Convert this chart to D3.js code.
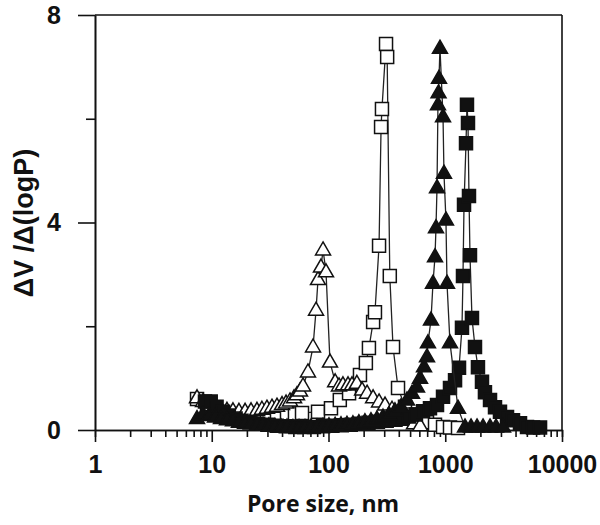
<!DOCTYPE html>
<html>
<head>
<meta charset="utf-8">
<script src="https://cdn.jsdelivr.net/npm/d3@7"></script>
<style>
  html, body { margin: 0; padding: 0; background: #fff; }
  svg { display: block; }
  .tick text { font-family: "Liberation Sans", Arial, sans-serif; font-weight: bold; font-size: 25px; fill: #111; }
</style>
</head>
<body>
<svg id="chart" width="600" height="525"></svg>
<script>
// ---- data (pore size in nm, dV/dlogP) ----
const openTriX = [7.48, 8.42, 9.47, 10.7, 12.0, 13.5, 15.2, 17.1, 19.3, 21.7, 24.4, 26.9, 29.7, 32.8, 36.2, 40.0, 43.3, 46.8, 50.7, 53.7, 57.0, 60.5, 66.7, 73.7, 78.2, 81.3, 86.2, 89.8, 95.2, 103, 114, 123, 133, 147, 159, 175, 194, 214, 241, 271, 305, 350, 410, 470, 540, 610];
const openTriY = [0.62, 0.55, 0.47, 0.42, 0.40, 0.38, 0.37, 0.36, 0.36, 0.37, 0.38, 0.40, 0.42, 0.44, 0.46, 0.49, 0.52, 0.56, 0.62, 0.68, 0.75, 0.85, 1.12, 1.60, 2.31, 2.90, 3.14, 3.47, 3.05, 1.31, 0.93, 0.85, 0.87, 0.87, 0.87, 0.90, 0.77, 0.71, 0.62, 0.54, 0.48, 0.40, 0.29, 0.19, 0.12, 0.08];

const openSqX = [7.48, 9.11, 11.1, 13.5, 16.4, 20.0, 24.4, 29.7, 36.2, 44.1, 51.6, 59.3, 81.3, 105, 125, 150, 186, 209, 222, 241, 250, 271, 282, 287, 311, 318, 335, 357, 394, 452, 519, 608, 698, 817, 957, 1098, 1286];
const openSqY = [0.60, 0.45, 0.35, 0.30, 0.27, 0.26, 0.26, 0.27, 0.28, 0.30, 0.32, 0.33, 0.35, 0.42, 0.58, 0.71, 1.06, 1.29, 1.58, 2.08, 2.27, 3.55, 5.84, 6.19, 7.44, 7.19, 2.97, 1.60, 0.81, 0.45, 0.30, 0.22, 0.15, 0.10, 0.06, 0.05, 0.04];

const filledTriX = [7.48, 8.42, 9.47, 10.66, 12.0, 13.5, 15.2, 17.1, 19.3, 21.7, 24.4, 27.5, 30.9, 34.8, 39.2, 44.1, 49.6, 55.9, 62.9, 70.8, 79.7, 89.7, 101, 114, 128, 144, 162, 182, 205, 231, 260, 293, 330, 371, 418, 470, 519, 573, 608, 658, 698, 711, 755, 785, 817, 833, 850, 866, 876, 884, 901, 957, 975, 1014, 1035, 1098, 1286, 1476, 1662, 1871, 2106, 2418, 2721, 3126];
const filledTriY = [0.22, 0.30, 0.28, 0.25, 0.22, 0.20, 0.18, 0.15, 0.13, 0.12, 0.10, 0.09, 0.08, 0.07, 0.06, 0.06, 0.05, 0.05, 0.05, 0.06, 0.06, 0.07, 0.08, 0.09, 0.10, 0.11, 0.12, 0.14, 0.16, 0.18, 0.21, 0.25, 0.30, 0.37, 0.45, 0.58, 0.71, 0.83, 1.00, 1.22, 1.41, 1.68, 2.12, 2.83, 3.34, 3.90, 4.67, 6.27, 6.50, 6.78, 7.36, 6.04, 4.95, 4.05, 2.83, 1.68, 0.42, 0.06, 0.06, 0.06, 0.06, 0.06, 0.06, 0.06];

const filledSqX = [8.75, 9.8, 11.0, 12.5, 14.0, 16.0, 18.0, 21.0, 25.0, 30.0, 36.0, 43.0, 52.0, 62.0, 75.0, 90.0, 108, 130, 155, 185, 220, 265, 315, 375, 430, 489, 561, 645, 740, 850, 957, 1098, 1213, 1312, 1391, 1419, 1448, 1506, 1535, 1566, 1597, 1629, 1694, 1798, 1906, 2064, 2188, 2418, 2668, 2943, 3381, 3805, 4369, 5017, 5650, 6487];
const filledSqY = [0.55, 0.55, 0.45, 0.35, 0.28, 0.22, 0.18, 0.15, 0.12, 0.10, 0.08, 0.07, 0.06, 0.06, 0.06, 0.07, 0.08, 0.09, 0.10, 0.12, 0.14, 0.16, 0.18, 0.20, 0.23, 0.26, 0.30, 0.36, 0.42, 0.48, 0.64, 0.81, 0.96, 1.20, 1.97, 2.97, 4.34, 5.53, 6.27, 5.92, 4.51, 3.37, 2.16, 1.60, 1.21, 0.93, 0.73, 0.58, 0.44, 0.35, 0.25, 0.19, 0.13, 0.06, 0.05, 0.05];

const xMajorTicks = [1, 10, 100, 1000, 10000];
const yMajorTicks = [0, 4, 8];
const yMinorTicks = [2, 6];
const xTitle = "Pore size, nm";
const yTitle = "\u0394V /\u0394(logP)";

// ---- layout ----
const svg = d3.select("#chart");
const pLeft = 95, pRight = 562, pTop = 15, pBottom = 430;
const x = d3.scaleLog().domain([1, 10000]).range([pLeft, pRight]);
const y = d3.scaleLinear().domain([0, 8]).range([pBottom, pTop]);

const ink = "#111";

// minor x ticks
const xMinor = [];
for (let d = 1; d < 10000; d *= 10) for (let k = 2; k <= 9; k++) xMinor.push(d * k);

function styleAxis(g) {
  g.select(".domain").attr("stroke", ink).attr("stroke-width", 1.6);
  g.selectAll(".tick line").attr("stroke", ink).attr("stroke-width", 1.6);
}

svg.append("g").attr("transform", `translate(0,${pBottom})`)
  .call(d3.axisBottom(x).tickValues(xMinor).tickSize(7).tickFormat(""))
  .call(styleAxis);
svg.append("g").attr("transform", `translate(0,${pBottom})`)
  .call(d3.axisBottom(x).tickValues(xMajorTicks).tickSize(12).tickSizeOuter(0).tickPadding(13).tickFormat(d3.format("d")))
  .call(styleAxis);

svg.append("g").attr("transform", `translate(${pLeft},0)`)
  .call(d3.axisLeft(y).tickValues(yMinorTicks).tickSize(9).tickSizeOuter(0).tickFormat(""))
  .call(styleAxis);
svg.append("g").attr("transform", `translate(${pLeft},0)`)
  .call(d3.axisLeft(y).tickValues(yMajorTicks).tickSize(17).tickSizeOuter(0).tickPadding(17).tickFormat(d3.format("d")))
  .call(styleAxis);

// frame top & right
svg.append("line").attr("x1", pLeft).attr("x2", pRight).attr("y1", pTop).attr("y2", pTop)
  .attr("stroke", ink).attr("stroke-width", 1.6);
svg.append("line").attr("x1", pRight).attr("x2", pRight).attr("y1", pTop).attr("y2", pBottom)
  .attr("stroke", ink).attr("stroke-width", 1.6);

// titles
svg.append("text").attr("x", 323).attr("y", 512).attr("text-anchor", "middle")
  .attr("font-family", "'Open Sans', 'Noto Sans', sans-serif").attr("font-weight", "bold")
  .attr("font-size", 23).attr("fill", ink).text(xTitle);
svg.append("text").attr("transform", "translate(33,223) rotate(-90)").attr("text-anchor", "middle")
  .attr("font-family", "'Liberation Sans', Arial, sans-serif").attr("font-weight", "bold")
  .attr("font-size", 27).attr("fill", ink).text(yTitle);

// ---- series ----
const tri = "M0,-8L7.5,5L-7.5,5Z";
const sq = "M-6.5,-6.5H6.5V6.5H-6.5Z";
const series = [
  { xs: openSqX, ys: openSqY, path: sq, fill: "#fff" },
  { xs: openTriX, ys: openTriY, path: tri, fill: "#fff" },
  { xs: filledSqX, ys: filledSqY, path: sq, fill: ink },
  { xs: filledTriX, ys: filledTriY, path: tri, fill: ink }
];
const line = d3.line().x(d => x(d[0])).y(d => y(d[1]));

series.forEach(s => {
  const pts = s.xs.map((v, i) => [v, s.ys[i]]);
  const g = svg.append("g");
  g.append("path").attr("d", line(pts)).attr("fill", "none")
    .attr("stroke", "#222").attr("stroke-width", 1.3);
  g.selectAll("path.m").data(pts).join("path").attr("class", "m")
    .attr("d", s.path)
    .attr("transform", d => `translate(${x(d[0])},${y(d[1])})`)
    .attr("fill", s.fill).attr("stroke", ink).attr("stroke-width", 1.5);
});
</script>
</body>
</html>
